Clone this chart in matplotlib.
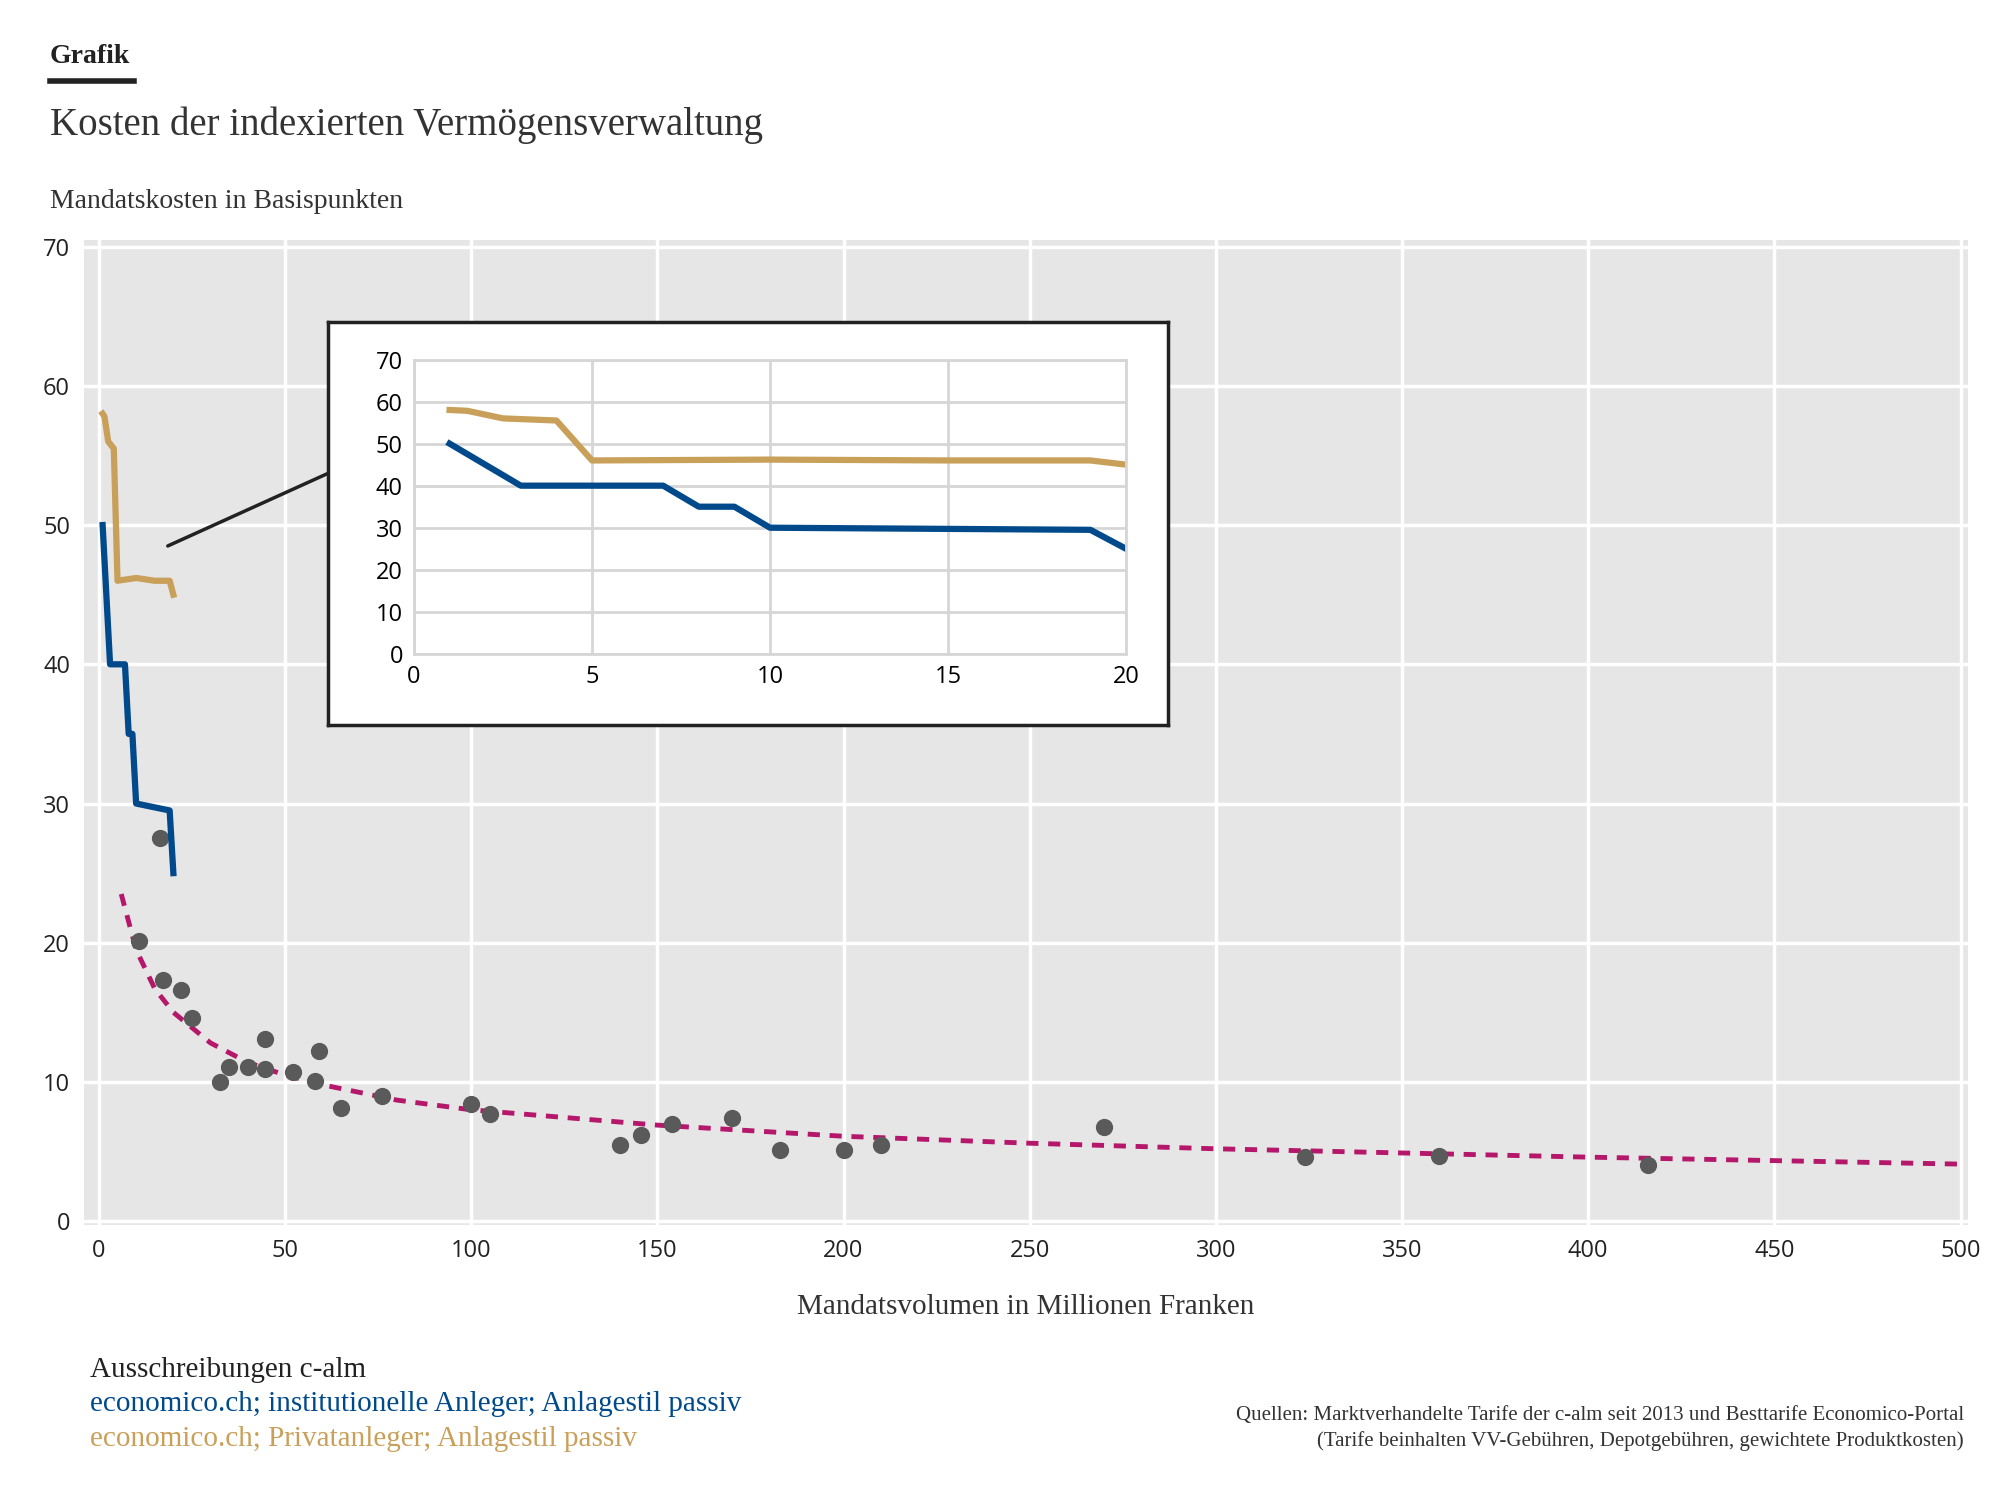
import matplotlib
matplotlib.use("Agg")
import matplotlib.pyplot as plt
from matplotlib.patches import ConnectionPatch

# stepped tariffs (volume in Mio CHF, cost in bp)
inst_x = [1, 3, 7, 8, 9, 10, 19, 20]
inst_y = [50, 40, 40, 35, 35, 30, 29.5, 25]
priv_x = [1, 1.5, 2.5, 4, 5, 10, 15, 19, 20]
priv_y = [58, 57.8, 56, 55.5, 46, 46.2, 46, 46, 45]

# c-alm tenders
calm_x = [16.5, 10.7, 17.2, 22, 25, 32.4, 35, 40, 44.5, 44.5, 52, 58, 59, 65, 76,
          100, 105, 140, 145.5, 154, 170, 183, 200, 210, 270, 324, 360, 416]
calm_y = [27.5, 20.1, 17.3, 16.6, 14.6, 10.0, 11.1, 11.1, 13.1, 10.9, 10.7, 10.1, 12.2,
          8.1, 9.0, 8.4, 7.7, 5.5, 6.2, 7.0, 7.4, 5.1, 5.1, 5.5, 6.8, 4.6, 4.7, 4.0]

# trend line
trend_x = [6, 10, 15, 20, 30, 40, 50, 60, 80, 100, 150, 200, 250, 300, 350, 400, 450, 500]
trend_y = [23.5, 19.5, 16.7, 15.0, 12.8, 11.4, 10.5, 9.8, 8.7, 8.0, 6.9, 6.1, 5.6,
           5.2, 4.9, 4.6, 4.35, 4.1]

BLUE = "#004a8c"
GOLD = "#c9a05a"
MAG = "#b5176b"
SANS = "Open Sans"
SERIF = "Liberation Serif"

fig = plt.figure(figsize=(20, 14.98), dpi=100)
ax = fig.add_axes([0.042, 0.182, 0.942, 0.658])
ax.set_facecolor("#e6e6e6")
for s in ax.spines.values():
    s.set_visible(False)
ax.set_xlim(-4, 502)
ax.set_ylim(-0.3, 70.5)
ax.set_xticks(range(0, 501, 50))
ax.set_yticks(range(0, 71, 10))
ax.grid(True, color="white", lw=2.5)
ax.set_axisbelow(True)
ax.tick_params(length=0, labelsize=17, pad=10)
for lab in ax.get_xticklabels() + ax.get_yticklabels():
    lab.set_fontfamily(SANS)
    lab.set_color("#222")

ax.plot(trend_x, trend_y, color=MAG, lw=3.5, ls=(0, (2.5, 2)))
ax.scatter(calm_x, calm_y, s=130, color="#5a5a5a", zorder=3)
ax.plot(inst_x, inst_y, color=BLUE, lw=4.5, zorder=4)
ax.plot(priv_x, priv_y, color=GOLD, lw=4.5, zorder=4)
ax.set_xlabel("Mandatsvolumen in Millionen Franken", fontsize=21, family=SERIF,
              color="#333", labelpad=22)

# inset box
box = fig.add_axes([0.164, 0.516, 0.42, 0.269])
box.set_facecolor("white")
box.set_xticks([])
box.set_yticks([])
for s in box.spines.values():
    s.set_linewidth(2.5)
    s.set_color("#222")

ins = fig.add_axes([0.207, 0.5635, 0.356, 0.1965])
ins.set_facecolor("white")
ins.set_xlim(0, 20)
ins.set_ylim(0, 70)
ins.set_xticks(range(0, 21, 5))
ins.set_yticks(range(0, 71, 10))
ins.grid(True, color="#d6d6d6", lw=2)
for s in ins.spines.values():
    s.set_color("#d6d6d6")
    s.set_linewidth(2)
ins.tick_params(length=0, labelsize=17, pad=8)
for lab in ins.get_xticklabels() + ins.get_yticklabels():
    lab.set_fontfamily(SANS)
ins.plot(inst_x, inst_y, color=BLUE, lw=4.5)
ins.plot(priv_x, priv_y, color=GOLD, lw=4.5)

con = ConnectionPatch(xyA=(18.5, 48.5), coordsA=ax.transData,
                      xyB=(0.164, 0.684), coordsB=fig.transFigure,
                      color="#222", lw=2.5)
fig.add_artist(con)

# header texts
fig.text(0.025, 0.958, "Grafik", fontsize=20, weight="bold", family=SERIF, color="#222")
fig.add_artist(plt.Line2D([0.025, 0.067], [0.946, 0.946], color="#222", lw=4))
fig.text(0.025, 0.910, "Kosten der indexierten Vermögensverwaltung", fontsize=28,
         family=SERIF, color="#333")
fig.text(0.025, 0.861, "Mandatskosten in Basispunkten", fontsize=20, family=SERIF,
         color="#333")

# legend
fig.text(0.045, 0.081, "Ausschreibungen c-alm", fontsize=21, family=SERIF, color="#222")
fig.text(0.045, 0.058, "economico.ch; institutionelle Anleger; Anlagestil passiv",
         fontsize=21, family=SERIF, color=BLUE)
fig.text(0.045, 0.035, "economico.ch; Privatanleger; Anlagestil passiv", fontsize=21,
         family=SERIF, color=GOLD)

fig.text(0.982, 0.035, "Quellen: Marktverhandelte Tarife der c-alm seit 2013 und "
         "Besttarife Economico-Portal\n(Tarife beinhalten VV-Gebühren, Depotgebühren, "
         "gewichtete Produktkosten)", fontsize=15, family=SERIF, color="#333",
         ha="right", linespacing=1.4)

fig.savefig("out.png", dpi=100)
